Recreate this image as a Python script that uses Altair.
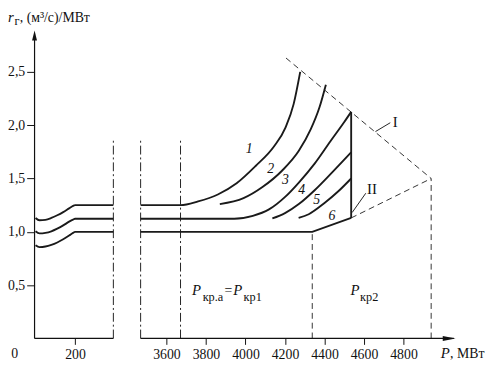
import altair as alt
import pandas as pd
import numpy as np

# ---------------- data (P in MW, r in (m3/s)/MW) ----------------
OFFSET = 2937          # MW cut out by the axis break

# left part of the broken axis (0 ... ~400 MW)
left_P     = [0, 20, 50, 80, 110, 140, 170, 190, 200, 394]
left_top_r = [1.13, 1.108, 1.112, 1.13, 1.155, 1.185, 1.22, 1.243, 1.25, 1.25]
left_mid_r = [1.005, 0.985, 0.99, 1.005, 1.03, 1.06, 1.095, 1.115, 1.123, 1.123]
left_bot_r = [0.875, 0.857, 0.862, 0.877, 0.90, 0.93, 0.965, 0.99, 1.0, 1.0]

# right part: curves 1..5
curve1_P = [3469, 3671, 3760, 3860, 3955, 4050, 4144, 4203, 4244, 4277]
curve1_r = [1.25, 1.25, 1.285, 1.35, 1.455, 1.615, 1.80, 1.98, 2.20, 2.50]
curve2_P = [3870, 3990, 4086, 4186, 4270, 4330, 4375, 4407]
curve2_r = [1.26, 1.316, 1.42, 1.575, 1.76, 1.96, 2.17, 2.38]
curve3_P = [3469, 3943, 4037, 4119, 4202, 4269, 4350, 4430, 4500, 4535]
curve3_r = [1.123, 1.123, 1.15, 1.21, 1.33, 1.46, 1.64, 1.85, 2.03, 2.125]
curve4_P = [4136, 4200, 4270, 4350, 4440, 4535]
curve4_r = [1.125, 1.175, 1.26, 1.39, 1.56, 1.746]
curve5_P = [4269, 4320, 4400, 4470, 4535]
curve5_r = [1.13, 1.165, 1.27, 1.38, 1.50]
# curve 6 / base line and the vertical limit
base_P = [3469, 4338, 4535]
base_r = [1.0, 1.0, 1.13]
limit_P = [4535, 4535]
limit_r = [1.13, 2.125]

# dashed boundary lines I and II and the dashed verticals
lineI_P  = [4205, 4940]
lineI_r  = [2.63, 1.50]
lineII_P = [4535, 4940]
lineII_r = [1.13, 1.50]
p_kr2_left  = 4338
p_kr2_right = 4940

# dash-dot separators
dashdot_P = [394, 3469, 3671]
dashdot_top = 1.88

# axis ticks
x_ticks_P = [200, 3600, 3800, 4000, 4200, 4400, 4600, 4800]
y_ticks = [0.5, 1.0, 1.5, 2.0, 2.5]


def to_u(P):
    P = np.asarray(P, dtype=float)
    return np.where(P < 2000, P, P - OFFSET)


def seg(name, Ps, rs):
    d = pd.DataFrame({"series": name, "P": Ps, "r": rs})
    d["i"] = range(len(d))
    d["u"] = to_u(d["P"])
    return d


smooth = pd.concat([
    seg("lt", left_P, left_top_r), seg("lm", left_P, left_mid_r), seg("lb", left_P, left_bot_r),
    seg("c1", curve1_P, curve1_r), seg("c2", curve2_P, curve2_r), seg("c3", curve3_P, curve3_r),
    seg("c4", curve4_P, curve4_r), seg("c5", curve5_P, curve5_r),
])
straight = pd.concat([seg("base", base_P, base_r), seg("lim", limit_P, limit_r)])
dashed = pd.concat([
    seg("I", lineI_P, lineI_r), seg("II", lineII_P, lineII_r),
    seg("v1", [p_kr2_left] * 2, [0, 1.0]), seg("v2", [p_kr2_right] * 2, [0, 1.50]),
])
dashdot = pd.concat([seg(f"d{k}", [p, p], [0, dashdot_top]) for k, p in enumerate(dashdot_P)])
axes_lines = pd.concat([
    seg("ya", [-5, -5], [0, 2.82]), seg("xl", [-5, 394], [0, 0]), seg("xr", [3469, 5055], [0, 0]),
])
leaders = pd.concat([
    seg("lI", [4658, 4733], [1.94, 2.023]), seg("lII", [4540, 4609], [1.181, 1.362]),
])
arrow_x = seg("ax", [5031], [0])
arrow_y = seg("ay", [-5], [2.841])


def tx(Ps, rs, texts):
    d = pd.DataFrame({"P": Ps, "r": rs, "text": texts})
    d["u"] = to_u(d["P"])
    return d


curve_labels = tx([4019, 4127, 4202, 4285, 4360, 4437],
                  [1.777, 1.593, 1.485, 1.393, 1.30, 1.147],
                  ["1", "2", "3", "4", "5", "6"])
roman_labels = tx([4758, 4640], [2.029, 1.397], ["I", "II"])
italic_main = tx([3729, 3938, 4531, 4989, -139],
                 [0.406, 0.406, 0.406, -0.1845, 2.970],
                 ["P", "P", "P", "P", "r"])
subs = tx([3783, 3990, 4580, -107], [0.351, 0.351, 0.351, 2.943], ["кр.а", "кр1", "кр2", "г"])
plain = tx([3894, 5036, -80], [0.406, -0.1845, 2.970], ["=", ", МВт", ", (м³/с)/МВт"])
origin = tx([-105], [-0.083], ["0"])

# ---------------- scales / axes ----------------
FONT = "Liberation Serif"
INK = "#111111"
xs = alt.Scale(domain=[-5, 2211], nice=False, zero=False)
ys = alt.Scale(domain=[0, 2.924], nice=False, zero=False)
x_axis = alt.Axis(
    values=[float(v) for v in to_u(x_ticks_P)],
    labelExpr=f"datum.value < 450 ? format(datum.value, 'd') : format(datum.value + {OFFSET}, 'd')",
    domain=False, grid=False, tickSize=6, tickColor=INK, tickWidth=1,
    labelFont=FONT, labelFontSize=14, labelColor=INK, labelPadding=3,
    labelFlush=False, labelOverlap=False, title=None,
)
y_axis = alt.Axis(
    values=y_ticks,
    labelExpr="replace(format(datum.value, '.1f'), '.', ',')",
    domain=False, grid=False, tickSize=8, tickColor=INK, tickWidth=1,
    labelFont=FONT, labelFontSize=14, labelColor=INK, labelPadding=2,
    labelOverlap=False, title=None,
)


def X():
    return alt.X("u:Q", scale=xs, axis=x_axis)


def Y():
    return alt.Y("r:Q", scale=ys, axis=y_axis)


def lines(df, **kw):
    return alt.Chart(df).mark_line(**kw).encode(x=X(), y=Y(), detail="series:N", order="i:Q")


def texts(df, **kw):
    return alt.Chart(df).mark_text(font=FONT, color=INK, **kw).encode(x=X(), y=Y(), text="text:N")


layers = [
    lines(dashdot, color="#222222", strokeWidth=1, strokeDash=[9, 3, 2, 3]),
    lines(dashed, color="#333333", strokeWidth=1, strokeDash=[6, 4]),
    lines(axes_lines, color=INK, strokeWidth=1.2),
    lines(leaders, color="#222222", strokeWidth=1),
    lines(smooth, color="#1a1a1a", strokeWidth=1.9, interpolate="monotone"),
    lines(straight, color="#1a1a1a", strokeWidth=1.9),
    alt.Chart(arrow_x).mark_point(shape="M-1,-0.4L1,0L-1,0.4Z", filled=True, size=169,
                                  color=INK, opacity=1).encode(x=X(), y=Y()),
    alt.Chart(arrow_y).mark_point(shape="M0,-1L0.5,1L-0.5,1Z", filled=True, size=100,
                                  color=INK, opacity=1).encode(x=X(), y=Y()),
    texts(curve_labels, fontSize=14, fontStyle="italic", align="center", baseline="middle"),
    texts(roman_labels, fontSize=15, align="center", baseline="middle"),
    texts(italic_main, fontSize=15, fontStyle="italic", align="left", baseline="alphabetic"),
    texts(subs, fontSize=12.5, align="left", baseline="alphabetic"),
    texts(plain, fontSize=14, align="left", baseline="alphabetic"),
    texts(origin, fontSize=14, align="center", baseline="top"),
]

chart = alt.layer(*layers).properties(
    width=445, height=317,
    padding={"left": 27, "top": 16, "right": 15, "bottom": 22},
    autosize=alt.AutoSizeParams(type="none"),
    background="white",
).configure_view(strokeWidth=0)

chart.save("out.html", embed_options={"renderer": "svg", "actions": False})
